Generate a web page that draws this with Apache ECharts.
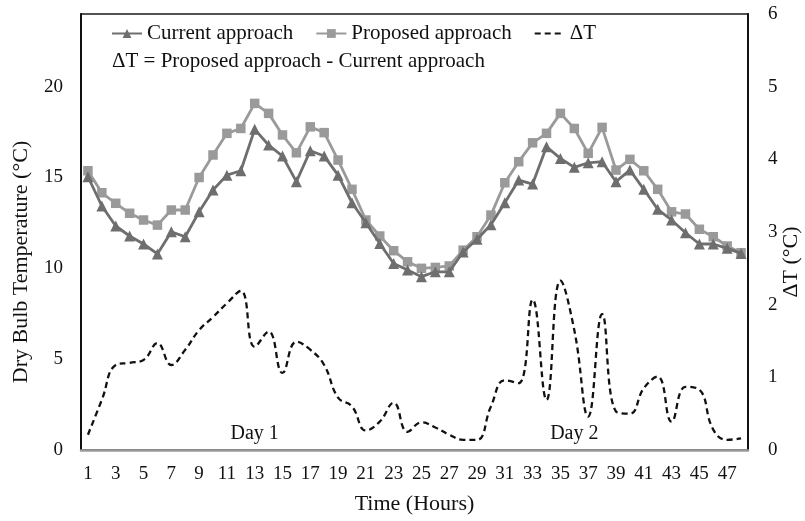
<!DOCTYPE html>
<html>
<head>
<meta charset="utf-8">
<script src="https://cdn.jsdelivr.net/npm/echarts@6/dist/echarts.min.js"></script>
<style>
  html, body { margin: 0; padding: 0; background: #fff; }
  #chart { width: 805px; height: 521px; }
</style>
</head>
<body>
<div id="chart"></div>
<script>
// Hour of the simulation period (two days)
const hours = ['1','2','3','4','5','6','7','8','9','10','11','12','13','14','15','16',
  '17','18','19','20','21','22','23','24','25','26','27','28','29','30','31','32',
  '33','34','35','36','37','38','39','40','41','42','43','44','45','46','47','48'];

// Dry bulb temperature (°C), current approach
const currentApproach = [15.04, 13.43, 12.33, 11.78, 11.34, 10.79, 12.01, 11.74, 13.11, 14.31, 15.13, 15.37,
  17.65, 16.79, 16.18, 14.77, 16.47, 16.18, 15.13, 13.61, 12.51, 11.37, 10.27, 9.91,
  9.54, 9.81, 9.81, 10.9, 11.6, 12.4, 13.61, 14.86, 14.64, 16.69, 16.05, 15.56,
  15.81, 15.87, 14.77, 15.41, 14.35, 13.25, 12.66, 11.96, 11.34, 11.34, 11.1, 10.82];

// Dry bulb temperature (°C), proposed approach
const proposedApproach = [15.37, 14.16, 13.58, 13.03, 12.66, 12.38, 13.21, 13.21, 15.0, 16.24, 17.43, 17.7,
  19.08, 18.53, 17.34, 16.36, 17.79, 17.47, 15.96, 14.35, 12.66, 11.78, 10.97, 10.36,
  10.0, 10.05, 10.13, 11.0, 11.74, 12.93, 14.71, 15.87, 16.91, 17.43, 18.53, 17.7,
  16.33, 17.76, 15.41, 16.0, 15.37, 14.35, 13.11, 12.99, 12.15, 11.74, 11.23, 10.86];

// Temperature difference ΔT (°C), right axis
const deltaT = [0.21, 0.69, 1.17, 1.2, 1.24, 1.47, 1.17, 1.38, 1.65, 1.83, 2.02, 2.19,
  1.42, 1.63, 1.06, 1.49, 1.38, 1.17, 0.72, 0.6, 0.27, 0.39, 0.65, 0.25,
  0.38, 0.31, 0.21, 0.14, 0.14, 0.6, 0.96, 0.92, 2.07, 0.69, 2.33, 1.65,
  0.46, 1.87, 0.53, 0.5, 0.85, 1.01, 0.39, 0.87, 0.83, 0.28, 0.14, 0.16];

// Day annotations: [label, hour position, ΔT height]
const dayLabels = [['Day 1', 12.7, 0.23], ['Day 2', 36.2, 0.23]];

const FONT = 'Liberation Serif, Times New Roman, serif';
const chart = echarts.init(document.getElementById('chart'), null, { renderer: 'canvas' });

const titleStyle = (text) => ({ text, font: '22px ' + FONT, fill: '#111', align: 'center', verticalAlign: 'middle' });

const option = {
  backgroundColor: '#fff',
  animation: false,
  textStyle: { fontFamily: FONT, color: '#111' },
  grid: {
    left: 81, right: 57, top: 14, bottom: 71,
    outerBoundsMode: 'none',
    show: true, borderColor: '#1a1a1a', borderWidth: 1.5, backgroundColor: 'transparent'
  },
  legend: {
    left: 106, top: 18,
    itemWidth: 30, itemHeight: 11, itemGap: 22,
    textStyle: { fontFamily: FONT, fontSize: 21, color: '#111' },
    data: [
      { name: 'Current approach' },
      { name: 'Proposed approach' },
      { name: 'ΔT', itemStyle: { opacity: 0 } }
    ]
  },
  graphic: [
    { type: 'text', left: 112, top: 51,
      style: { text: 'ΔT = Proposed approach - Current approach', font: '21px ' + FONT, fill: '#111' } },
    { type: 'text', x: 21, y: 262, rotation: Math.PI / 2, style: titleStyle('Dry Bulb Temperature (°C)') },
    { type: 'text', x: 791, y: 262, rotation: Math.PI / 2, style: titleStyle('ΔT (°C)') }
  ],
  xAxis: {
    type: 'category', data: hours, boundaryGap: true,
    name: 'Time (Hours)', nameLocation: 'middle', nameGap: 43,
    nameTextStyle: { fontFamily: FONT, fontSize: 22, color: '#111' },
    axisLine: { lineStyle: { color: '#9a9a9a', width: 2.5 } },
    axisTick: { show: false },
    axisLabel: { interval: 1, margin: 15, fontFamily: FONT, fontSize: 19, color: '#111' },
    splitLine: { show: false }
  },
  yAxis: [{
    type: 'value', min: 0, max: 24, interval: 5,
    axisLine: { show: true, lineStyle: { color: '#111', width: 2 } },
    axisTick: { show: false },
    axisLabel: {
      margin: 18, fontFamily: FONT, fontSize: 19, color: '#111',
      formatter: v => (v % 5 === 0 ? String(v) : '')
    },
    splitLine: { show: false }
  }, {
    type: 'value', min: 0, max: 6, interval: 1, position: 'right',
    axisLine: { show: true, lineStyle: { color: '#111', width: 2 } },
    axisTick: { show: false },
    axisLabel: { margin: 20, fontFamily: FONT, fontSize: 19, color: '#111' },
    splitLine: { show: false }
  }],
  series: [{
    name: 'Current approach', type: 'line', yAxisIndex: 0,
    data: currentApproach,
    symbol: 'triangle', symbolSize: 11, showAllSymbol: true,
    lineStyle: { color: '#6e6e6e', width: 2.8 },
    itemStyle: { color: '#6e6e6e' },
    z: 3
  }, {
    name: 'Proposed approach', type: 'line', yAxisIndex: 0,
    data: proposedApproach,
    symbol: 'rect', symbolSize: 9.5, showAllSymbol: true,
    lineStyle: { color: '#9a9a9a', width: 2.8 },
    itemStyle: { color: '#9a9a9a' },
    z: 2
  }, {
    name: 'ΔT', type: 'line', yAxisIndex: 1,
    data: deltaT,
    smooth: 0.45, symbol: 'none',
    lineStyle: { color: '#111', width: 2.3, type: [6, 4] },
    itemStyle: { color: '#111' },
    z: 4
  }]
};

chart.setOption(option);

// Place the day annotations in data coordinates of the ΔT axis
const dayGraphics = dayLabels.map(([text, hour, val]) => {
  const p = chart.convertToPixel({ xAxisIndex: 0, yAxisIndex: 1 }, [hour - 1, val]);
  return {
    type: 'text', x: p[0], y: p[1],
    style: { text, font: '20px ' + FONT, fill: '#111', align: 'center', verticalAlign: 'middle' }
  };
});
chart.setOption({ graphic: option.graphic.concat(dayGraphics) });
</script>
</body>
</html>
